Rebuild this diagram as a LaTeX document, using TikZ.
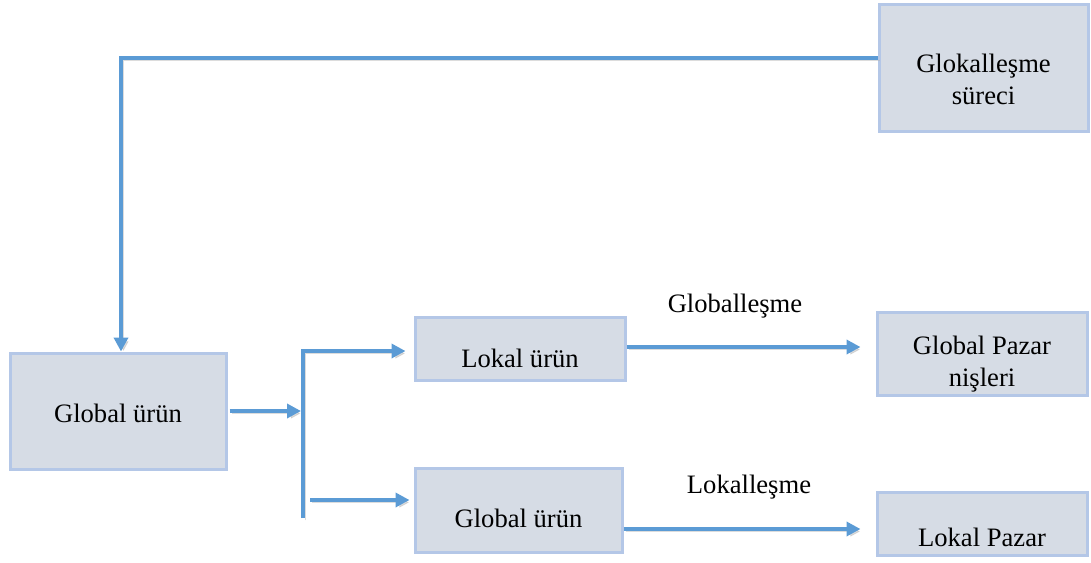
\documentclass[tikz,border=0pt]{standalone}
\usepackage{fontspec}
\setmainfont{Liberation Serif}
\usetikzlibrary{arrows.meta}
\definecolor{boxfill}{HTML}{D6DCE5}
\definecolor{boxline}{HTML}{B4C7E7}
\definecolor{conncol}{HTML}{5B9BD5}
\begin{document}
\begin{tikzpicture}[x=0.5pt,y=-0.5pt,
  box/.style={draw=boxline, fill=boxfill, line width=1.5pt, inner sep=0pt},
  boxtext/.style={align=center, font=\fontsize{13.3}{16}\selectfont},
  conn/.style={draw=conncol, line width=1.75pt,
    preaction={draw=black!30, opacity=0.45, transform canvas={shift={(1.2pt,-1.2pt)}}}},
  arr/.style={conn, -{Triangle[length=7pt,width=7pt]}},
  lbl/.style={font=\fontsize{13.3}{16}\selectfont}]
\useasboundingbox (0,0) rectangle (1091,562);
% boxes
\node[box, minimum width=104.5pt, minimum height=63.5pt] (gk) at (983.5,67.5) {};
\node[boxtext] (gkt) at (983.5,79) {Glokalleşme\\süreci};
\node[box, minimum width=108pt, minimum height=58pt] (gu) at (118,411) {};
\node[boxtext] (gut) at (118,413) {Global ürün};
\node[box, minimum width=105pt, minimum height=31.5pt] (lu) at (520,348.5) {};
\node[boxtext] (lut) at (520,358) {Lokal ürün};
\node[box, minimum width=103.5pt, minimum height=42pt] (gu2) at (518.5,510) {};
\node[boxtext] (gu2t) at (518.5,518) {Global ürün};
\node[box, minimum width=105pt, minimum height=41.5pt] (gp) at (982,353.5) {};
\node[boxtext] (gpt) at (982,364) {Global Pazar\\nişleri};
\node[box, minimum width=105pt, minimum height=31.5pt] (lp) at (982,523.5) {};
\node[boxtext] (lpt) at (982,537) {Lokal Pazar};
% labels
\node[lbl] (l1) at (735,306) {Globalleşme};
\node[lbl] (l2) at (749,487) {Lokalleşme};
% bar coordinates
\coordinate (bt) at (303,351);
\coordinate (bb) at (303,518);
\coordinate (bs) at (310,500);
% connectors
\draw[arr] (gk.west |- 0,58) -| ([xshift=1.5pt]gu.north);
\draw[arr, shorten <=1pt, shorten >=1pt] (gu.east) -- (gu.east -| bt);
\draw[arr, shorten >=4pt] (bb) -- (bt) -- (bt -| lu.west);
\draw[arr, shorten >=2pt] (bs) -- (bs -| gu2.west);
\draw[arr, shorten >=7.5pt] ([yshift=0.75pt]lu.east) -- ([yshift=0.75pt]lu.east -| gp.west);
\draw[arr, shorten >=7.5pt] ([yshift=-9.5pt]gu2.east) -- ([yshift=-9.5pt]gu2.east -| lp.west);
\end{tikzpicture}
\end{document}
